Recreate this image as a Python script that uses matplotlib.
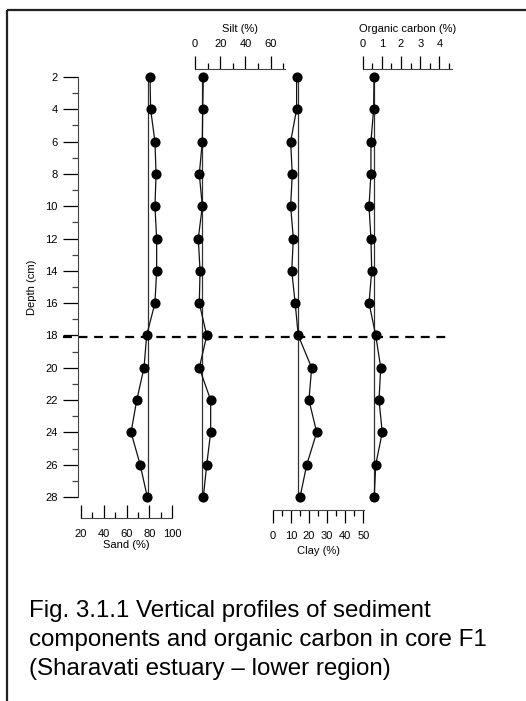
import matplotlib.pyplot as plt
from matplotlib.patches import Rectangle
from matplotlib.ticker import MultipleLocator

plt.rcParams['font.family'] = ['Liberation Sans', 'DejaVu Sans']

# core F1 profile data
depth = [2, 4, 6, 8, 10, 12, 14, 16, 18, 20, 22, 24, 26, 28]
sand = [80.7, 81.2, 85.0, 86.0, 85.0, 86.5, 86.5, 85.0, 77.7, 75.4, 69.0, 64.0, 72.0, 78.3]
silt = [6.6, 6.1, 5.8, 3.4, 5.8, 2.6, 4.0, 3.4, 9.3, 3.4, 12.4, 12.4, 9.3, 6.6]
clay = [13.2, 13.2, 9.9, 10.8, 9.9, 11.4, 10.5, 12.4, 14.1, 21.5, 20.0, 24.3, 18.8, 15.1]
oc = [0.59, 0.57, 0.43, 0.43, 0.33, 0.43, 0.47, 0.33, 0.68, 0.94, 0.85, 1.02, 0.68, 0.60]

# reference (mean) lines and boundary depth
sand_ref, silt_ref, clay_ref, oc_ref = 79.0, 5.3, 14.1, 0.6
boundary = 18.1

caption = ("Fig. 3.1.1 Vertical profiles of sediment\n"
           "components and organic carbon in core F1\n"
           "(Sharavati estuary \u2013 lower region)")

W, H = 526, 701
fig = plt.figure(figsize=(W / 100, H / 100), dpi=100)


def rect(x0, y0, x1, y1):
    # pixel box (top-left origin) -> figure fraction
    return [x0 / W, 1 - y1 / H, (x1 - x0) / W, (y1 - y0) / H]


PX = 0.72  # points per pixel
Y0, Y1 = 77, 497

# frame around the figure
frame = fig.add_axes([0, 0, 1, 1])
frame.set_xlim(0, W)
frame.set_ylim(H, 0)
frame.axis('off')
frame.add_patch(Rectangle((7, 10), 540, 720, fill=False, lw=1.6, ec='#222222'))

# depth axis
ax_d = fig.add_axes(rect(78, Y0, 447, Y1))
ax_d.set_xlim(78, 447)
ax_d.set_ylim(28, 2)
ax_d.patch.set_visible(False)
for s in ['top', 'right', 'bottom']:
    ax_d.spines[s].set_visible(False)
ax_d.spines['left'].set_color('#444444')
ax_d.set_xticks([])
ax_d.yaxis.set_major_locator(MultipleLocator(2))
ax_d.yaxis.set_minor_locator(MultipleLocator(1))
ax_d.tick_params(axis='y', which='major', length=15 * PX, width=0.9, labelsize=8, pad=4)
ax_d.tick_params(axis='y', which='minor', length=6 * PX, width=0.9, color='#444444')
ax_d.set_ylabel('Depth (cm)', fontsize=8, labelpad=6)
ax_d.hlines(boundary, 63, 447, colors='black', linestyles=(0, (4, 3)), lw=1.6, clip_on=False)


def profile(x0, x1, lim, values, ref, where, offset_px, major, minor, direction,
            label, pad, labelpad):
    ax = fig.add_axes(rect(x0, Y0, x1, Y1))
    ax.set_xlim(*lim)
    ax.set_ylim(28, 2)
    ax.patch.set_visible(False)
    for s in ['top', 'bottom', 'left', 'right']:
        ax.spines[s].set_visible(s == where)
    ax.spines[where].set_position(('outward', offset_px * PX))
    ax.spines[where].set_color('#444444')
    ax.set_yticks([])
    ax.xaxis.set_ticks_position(where)
    ax.xaxis.set_label_position(where)
    ax.xaxis.set_major_locator(MultipleLocator(major))
    ax.xaxis.set_minor_locator(MultipleLocator(minor))
    ax.tick_params(axis='x', which='major', direction=direction, length=13 * PX,
                   width=0.9, labelsize=8, pad=pad)
    ax.tick_params(axis='x', which='minor', direction=direction, length=6 * PX,
                   width=0.9)
    ax.set_xlabel(label, fontsize=8, labelpad=labelpad)
    ax.axvline(ref, color='#333333', lw=0.9)
    ax.plot(values, depth, color='#111111', lw=0.9, marker='o', ms=6.3,
            mfc='black', mec='black', clip_on=False, zorder=3)
    return ax


profile(81, 172, (20, 100), sand, sand_ref, 'bottom', 21, 20, 10, 'in', 'Sand (%)', 8, 0.5)
profile(195, 285, (0, 71.3), silt, silt_ref, 'top', 8, 20, 10, 'out', 'Silt (%)', 5, 5)
profile(272.7, 364, (0, 50.4), clay, clay_ref, 'bottom', 13, 10, 5, 'out', 'Clay (%)', 6, 3.5)
profile(362.7, 451.7, (0, 4.64), oc, oc_ref, 'top', 8, 1, 0.5, 'out', 'Organic carbon (%)', 5, 5)

fig.text(29 / W, 1 - 600 / H, caption, fontsize=17.4, va='top', ha='left',
         linespacing=1.42)

fig.savefig('out.png', dpi=100)
